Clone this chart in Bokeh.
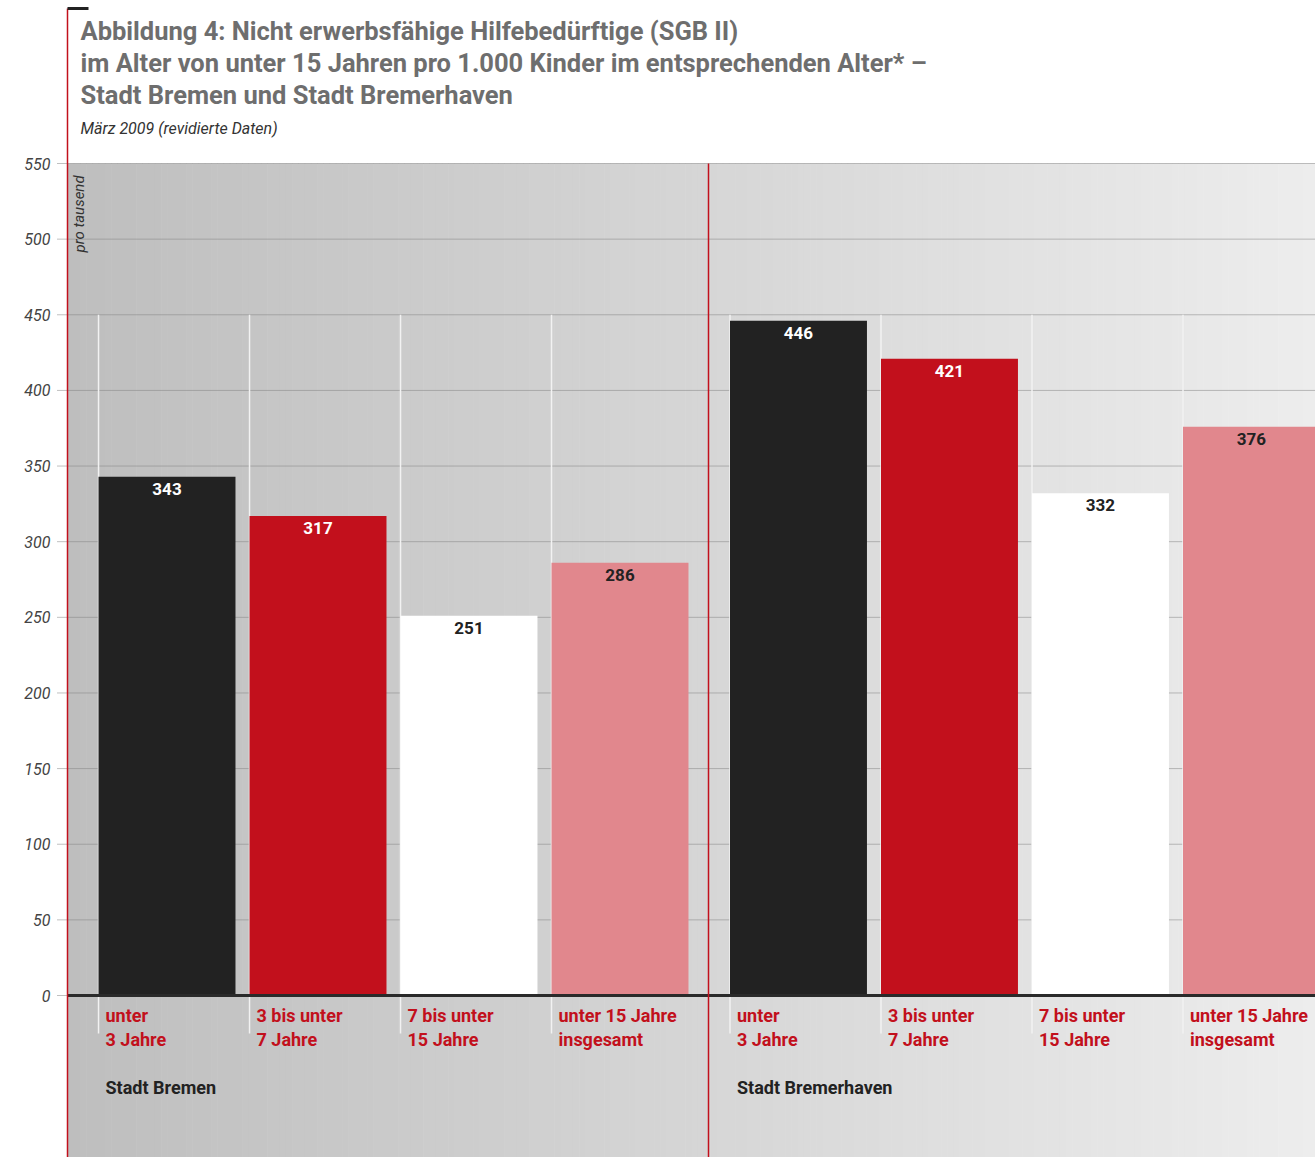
from bokeh.plotting import figure
from bokeh.models import Range1d, ColumnDataSource
from bokeh.core.properties import value
from bokeh.embed import file_html
from bokeh.resources import INLINE

# ---------------- data ----------------
title_lines = [
    "Abbildung 4: Nicht erwerbsfähige Hilfebedürftige (SGB II)",
    "im Alter von unter 15 Jahren pro 1.000 Kinder im entsprechenden Alter* –",
    "Stadt Bremen und Stadt Bremerhaven",
]
subtitle = "März 2009 (revidierte Daten)"
unit_label = "pro tausend"
groups = ["Stadt Bremen", "Stadt Bremerhaven"]
age_line1 = ["unter", "3 bis unter", "7 bis unter", "unter 15 Jahre"]
age_line2 = ["3 Jahre", "7 Jahre", "15 Jahre", "insgesamt"]
bremen = [343, 317, 251, 286]
bremerhaven = [446, 421, 332, 376]
y_ticks = [0, 50, 100, 150, 200, 250, 300, 350, 400, 450, 500, 550]

# ---------------- styling ----------------
bar_colors = ["#222222", "#c2101c", "#ffffff", "#e1878d"]
label_colors = ["#ffffff", "#ffffff", "#222222", "#222222"]
RED = "#c2101c"
FONT = "Roboto"

W, H = 1315, 1157
SLOT = 151.0          # px per category slot
X_ORIGIN = 166.5      # px of first bar center
Y_ZERO = 995.0        # px of value 0
PX_PER_UNIT = 832.0 / 550.0
GROUP_OFFSET = 4.182
BAR_W = 0.907

def hx(px):
    return (px - X_ORIGIN) / SLOT

def vy(py):
    return (Y_ZERO - py) / PX_PER_UNIT

x_start, x_end = hx(0), hx(W)
y_start, y_end = vy(H), vy(0)

p = figure(width=W, height=H, output_backend="svg", toolbar_location=None,
           x_range=Range1d(x_start, x_end), y_range=Range1d(y_start, y_end),
           x_axis_location=None, y_axis_location=None, min_border=0)
p.outline_line_color = None
p.xgrid.visible = False
p.ygrid.visible = False
p.background_fill_color = "white"
p.border_fill_color = "white"

# background gradient (decoration)
left_edge = hx(67)
N = 200
c0, c1 = (190, 190, 190), (237, 237, 237)
lefts, rights, cols = [], [], []
for i in range(N):
    a = left_edge + (x_end - left_edge) * i / N
    b = left_edge + (x_end - left_edge) * (i + 1) / N
    t = (i + 0.5) / N
    c = tuple(int(round(c0[k] + (c1[k] - c0[k]) * t)) for k in range(3))
    lefts.append(a); rights.append(b + 0.004); cols.append("#%02x%02x%02x" % c)
p.quad(left=lefts, right=rights, bottom=y_start, top=y_ticks[-1],
       fill_color=cols, line_color=None)

# dotted gridlines
p.segment(x0=hx(57), x1=x_end, y0=y_ticks, y1=y_ticks,
          line_color="#808080", line_width=1, line_dash="1 1")

# tick labels
p.text(x=hx(50), y=y_ticks, text=[str(t) for t in y_ticks],
       text_align="right", text_baseline="middle",
       text_font=value(FONT), text_font_style="italic",
       text_font_size="16px", text_color="#444444")

# positions
positions = [g * GROUP_OFFSET + i for g in range(2) for i in range(4)]
values = bremen + bremerhaven
colors = bar_colors * 2
lcolors = label_colors * 2
lefts_bar = [pos - BAR_W / 2 for pos in positions]

# white vertical separators at bar left edges
p.segment(x0=lefts_bar, x1=lefts_bar, y0=450, y1=vy(1033),
          line_color="#f2f2f2", line_width=1.5)

src = ColumnDataSource(dict(x=positions, top=values, color=colors,
                            lcolor=lcolors, label=[str(v) for v in values],
                            left=lefts_bar))
p.vbar(x="x", top="top", bottom=0, width=BAR_W, fill_color="color",
       line_color=None, source=src)

p.text(x="x", y="top", text="label", text_color="lcolor", source=src,
       text_align="center", text_baseline="middle", y_offset=12,
       text_font=value(FONT), text_font_style="bold", text_font_size="17px")

# zero line
p.segment(x0=left_edge, x1=x_end, y0=0, y1=0, line_color="#2a2a2a", line_width=3)

# category labels
lab_x = [l + hx(105) - hx(98) for l in lefts_bar]
p.text(x=lab_x, y=vy(1015), text=age_line1 * 2, text_align="left",
       text_baseline="middle", text_color=RED, text_font=value(FONT),
       text_font_style="bold", text_font_size="18px")
p.text(x=lab_x, y=vy(1039), text=age_line2 * 2, text_align="left",
       text_baseline="middle", text_color=RED, text_font=value(FONT),
       text_font_style="bold", text_font_size="18px")

# group labels
p.text(x=[lab_x[0], lab_x[4]], y=vy(1087), text=groups, text_align="left",
       text_baseline="middle", text_color="#222222", text_font=value(FONT),
       text_font_style="bold", text_font_size="18px")

# red separator and left border
p.segment(x0=[hx(708), left_edge], x1=[hx(708), left_edge],
          y0=[y_ticks[-1], vy(8)], y1=[y_start, y_start],
          line_color=RED, line_width=1.5)
p.segment(x0=left_edge, x1=hx(88), y0=vy(8), y1=vy(8),
          line_color="#222222", line_width=3)

# unit label
p.text(x=hx(79), y=vy(252), text=[unit_label], angle=1.5708,
       text_align="left", text_baseline="middle", text_color="#333333",
       text_font=value(FONT), text_font_style="italic", text_font_size="15px")

# title
for i, line in enumerate(title_lines):
    p.text(x=hx(80), y=vy(30 + 32 * i), text=[line], text_align="left",
           text_baseline="middle", text_color="#6e6e6e",
           text_font=value(FONT), text_font_style="bold", text_font_size="25.5px")
p.text(x=hx(80), y=vy(128), text=[subtitle], text_align="left",
       text_baseline="middle", text_color="#333333",
       text_font=value(FONT), text_font_style="italic", text_font_size="16px")

open("out.html", "w").write(file_html(p, INLINE))
